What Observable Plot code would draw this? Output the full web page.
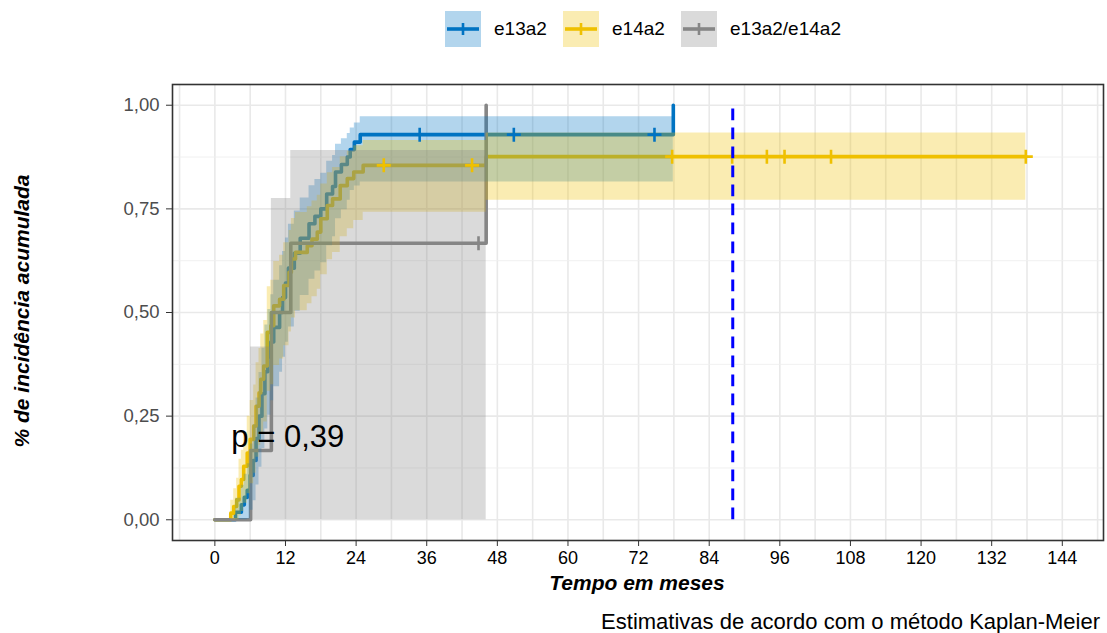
<!DOCTYPE html>
<html><head><meta charset="utf-8">
<script src="https://cdn.jsdelivr.net/npm/d3@7"></script>
<script src="https://cdn.jsdelivr.net/npm/@observablehq/plot@0.6"></script>
<style>
body{margin:0;background:#fff;font-family:"Liberation Sans",Arial,Helvetica,sans-serif;width:1107px;height:633px;overflow:hidden;position:relative}
#legend{position:absolute;top:11px;left:0;width:1107px;height:36px}
.item{position:absolute;top:0;height:36px;display:flex;align-items:center}
.lab{font-size:19px;color:#000;margin-left:13px;line-height:36px}
#chart{position:absolute;top:60px;left:0}
#ytitle{position:absolute;left:-178px;top:299px;width:400px;height:24px;line-height:24px;text-align:center;transform:rotate(-90deg);font-weight:bold;font-style:italic;font-size:21px}
#xtitle{position:absolute;left:437px;top:571px;width:400px;line-height:24px;text-align:center;font-weight:bold;font-style:italic;font-size:21px}
#caption{position:absolute;right:7px;top:611px;line-height:22px;font-size:22px}
</style></head>
<body>
<div id="legend"></div>
<div id="chart"></div>
<div id="ytitle">% de incidência acumulada</div>
<div id="xtitle">Tempo em meses</div>
<div id="caption">Estimativas de acordo com o método Kaplan-Meier</div>
<script>
// ---- data ----
const groups = ["e13a2", "e14a2", "e13a2/e14a2"];
const colors = ["#0073C2", "#EFC000", "#868686"];

const blueTime = [0, 3.5, 4.5, 5, 5.5, 6, 6.5, 7, 7.5, 8, 8.5, 9, 9.5, 10, 11, 11.5, 12, 12.5, 13.5, 14.5, 16, 17, 18, 19, 20, 20.5, 21.5, 22.5, 23, 23.7, 24.7, 77.9];
const blueInc  = [0, .018, .036, .054, .071, .107, .143, .196, .25, .304, .357, .393, .429, .464, .5, .536, .571, .607, .643, .679, .714, .732, .75, .786, .804, .839, .857, .875, .893, .911, .929, 1.0];
const blueLo   = [0, 0, 0, 0, .002, .023, .046, .084, .127, .172, .219, .252, .287, .321, .356, .392, .428, .465, .503, .541, .58, .6, .62, .661, .683, .726, .748, .771, .794, .805, .815, .815];
const blueHi   = [0, .052, .083, .11, .135, .183, .229, .294, .355, .414, .47, .507, .543, .578, .613, .647, .68, .713, .745, .776, .806, .821, .836, .865, .879, .906, .919, .932, .945, .957, .972, .972];
const blueCensor = [34.8, 50.8, 74.7];

const yelTime = [0, 2.7, 3.2, 3.7, 4.1, 4.5, 4.9, 5.5, 6, 6.6, 7, 7.5, 7.8, 8.3, 8.9, 9.5, 10, 11, 11.7, 12.6, 13, 13.7, 15.7, 16.5, 17.4, 18, 19.1, 20, 21.3, 22.5, 23.6, 25.2, 46.1, 137.8];
const yelInc  = [0, .016, .032, .048, .081, .097, .129, .161, .194, .226, .274, .306, .339, .371, .452, .468, .516, .532, .565, .597, .629, .645, .661, .677, .694, .726, .758, .774, .806, .823, .839, .855, .876, .876];
const yelLo   = [0, 0, 0, 0, .01, .02, .04, .063, .087, .112, .151, .179, .207, .236, .31, .326, .372, .388, .42, .453, .487, .504, .521, .538, .556, .591, .627, .645, .683, .702, .722, .742, .771, .771];
const yelHi   = [0, .047, .075, .1, .146, .168, .21, .25, .288, .325, .379, .413, .448, .481, .562, .578, .623, .638, .668, .698, .727, .741, .755, .769, .783, .81, .837, .85, .876, .889, .902, .915, .933, .933];
const yelCensor = [28.7, 43.7, 77.7, 87.9, 93.8, 96.8, 104.7, 137.8];

const grayTime = [0, 6.07, 9.6, 12.9, 46.1];
const grayInc  = [0, .167, .5, .667, 1.0];
const grayLo   = [0, 0, 0, 0, 0];
const grayHi   = [0, .417, .775, .891, .891];
const grayCensor = [44.8];

const medianFollowUp = 88;
const pLabel = "p = 0,39";

const xTicks = [0, 12, 24, 36, 48, 60, 72, 84, 96, 108, 120, 132, 144];
const yTicks = [0, 0.25, 0.5, 0.75, 1];
const yTickLabels = ["0,00", "0,25", "0,50", "0,75", "1,00"];
const xGrid = [-6, 0, 6, 12, 18, 24, 30, 36, 42, 48, 54, 60, 66, 72, 78, 84, 90, 96, 102, 108, 114, 120, 126, 132, 138, 144, 150];
const yGridMajor = [0, 0.25, 0.5, 0.75, 1];
const yGridMinor = [0.125, 0.375, 0.625, 0.875];

// ---- build tables ----
const series = [
  {g: groups[0], t: blueTime, v: blueInc, lo: blueLo, hi: blueHi, c: blueCensor},
  {g: groups[1], t: yelTime, v: yelInc, lo: yelLo, hi: yelHi, c: yelCensor},
  {g: groups[2], t: grayTime, v: grayInc, lo: grayLo, hi: grayHi, c: grayCensor}
];
const rows = [];
const censors = [];
for (const s of series) {
  s.t.forEach((t, i) => rows.push({group: s.g, time: t, inc: s.v[i], lo: s.lo[i], hi: s.hi[i]}));
  for (const ct of s.c) {
    let k = 0;
    for (let i = 0; i < s.t.length; i++) if (s.t[i] <= ct) k = i;
    censors.push({group: s.g, time: ct, inc: s.v[k]});
  }
}

const plusSym = {draw(ctx, size) { const r = Math.sqrt(size / Math.PI); ctx.moveTo(-r, 0); ctx.lineTo(r, 0); ctx.moveTo(0, -r); ctx.lineTo(0, r); }};

const chart = Plot.plot({
  width: 1107, height: 540,
  marginTop: 24, marginBottom: 60, marginLeft: 172, marginRight: 4,
  style: {fontFamily: '"Liberation Sans", Arial, Helvetica, sans-serif', fontSize: "18px", background: "#fff", overflow: "visible"},
  x: {domain: [-7.2, 151], label: null},
  y: {domain: [-0.05, 1.05], label: null},
  color: {domain: groups, range: colors},
  marks: [
    Plot.ruleX(xGrid, {stroke: "#e9e9e9", strokeWidth: 1.6}),
    Plot.ruleY(yGridMinor, {stroke: "#eeeeee", strokeWidth: 0.9}),
    Plot.ruleY(yGridMajor, {stroke: "#e9e9e9", strokeWidth: 1.6}),
    Plot.line(rows, {x: "time", y: "inc", z: "group", stroke: "group", strokeWidth: 3.6, curve: "step-after"}),
    Plot.areaY(rows, {x: "time", y1: "lo", y2: "hi", z: "group", fill: "group", fillOpacity: 0.3, curve: "step-after"}),
    Plot.dot(censors, {x: "time", y: "inc", stroke: "group", fill: "none", symbol: plusSym, r: 7, strokeWidth: 2.6}),
    Plot.ruleX([medianFollowUp], {y1: 0, y2: 1, stroke: "#0000ff", strokeWidth: 3, strokeDasharray: "11.7,7.3"}),
    Plot.text([pLabel], {x: 2.8, y: 0.2, text: d => d, textAnchor: "start", fontSize: 31, fill: "#000"}),
    Plot.frame({stroke: "#333", strokeWidth: 1.6}),
    Plot.axisX({ticks: xTicks, tickSize: 6, tickPadding: 5, label: null, stroke: "#333"}),
    Plot.axisY({ticks: yTicks, tickSize: 6, tickPadding: 7, label: null, tickFormat: d => yTickLabels[yTicks.indexOf(d)], stroke: "#333"})
  ]
});
document.getElementById("chart").appendChild(chart);
d3.select(chart).selectAll('g[aria-label="y-axis tick label"] text').attr("fill", "#4d4d4d").attr("font-size", "18.5px");
d3.select(chart).selectAll('g[aria-label="x-axis tick label"] text').attr("fill", "#000");

// ---- legend ----
const legend = document.getElementById("legend");
const swLeft = [445, 563, 681];
groups.forEach((g, i) => {
  const item = document.createElement("div");
  item.className = "item";
  item.style.left = swLeft[i] + "px";
  item.innerHTML = `<svg width="36" height="36"><rect width="36" height="36" fill="${colors[i]}" fill-opacity="0.3"/>` +
    `<line x1="2" x2="34" y1="18" y2="18" stroke="${colors[i]}" stroke-width="3.6"/>` +
    `<line x1="18" x2="18" y1="12" y2="24" stroke="${colors[i]}" stroke-width="2.6"/></svg>` +
    `<span class="lab">${g}</span>`;
  legend.appendChild(item);
});
</script>
</body></html>
